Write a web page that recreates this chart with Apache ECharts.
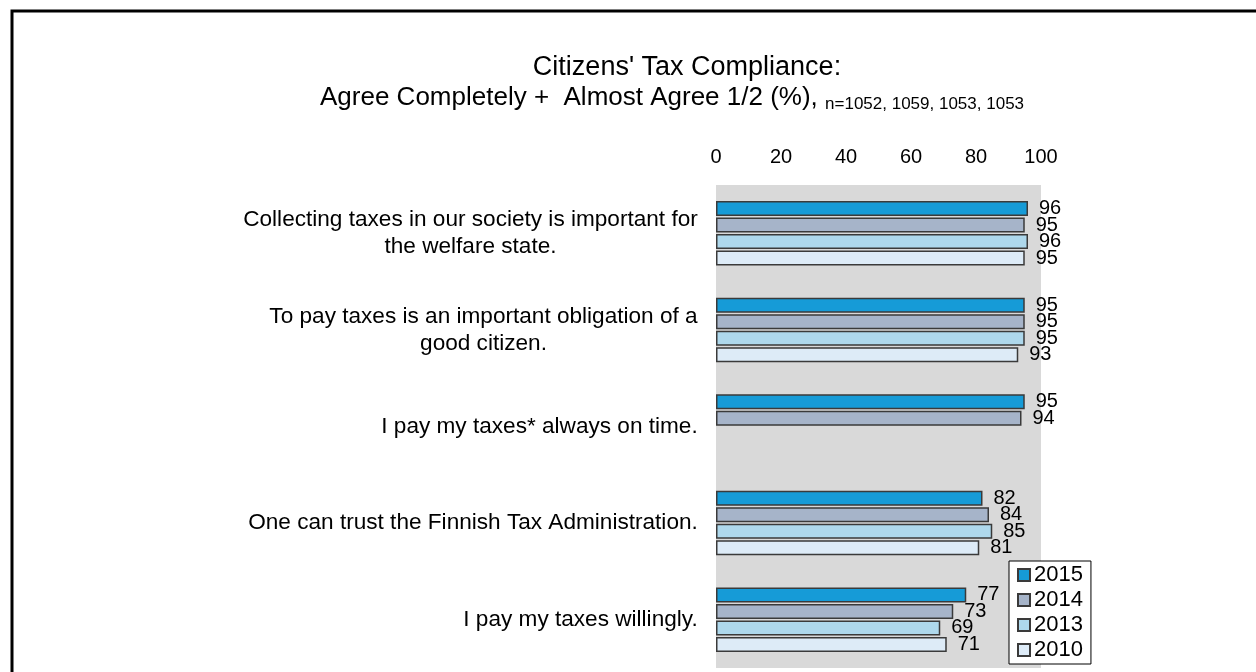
<!DOCTYPE html>
<html>
<head>
<meta charset="utf-8">
<script src="https://cdn.jsdelivr.net/npm/echarts@6/dist/echarts.min.js"></script>
<style>
html,body{margin:0;padding:0;background:#fff;}
#chart{width:1256px;height:672px;}
</style>
</head>
<body>
<div id="chart"></div>
<script>
const categories = [
  ["Collecting taxes in our society is important for", "the welfare state."],
  ["To pay taxes is an important obligation of a", "good citizen."],
  ["I pay my taxes* always on time."],
  ["One can trust the Finnish Tax Administration."],
  ["I pay my taxes willingly."]
];
const years = ["2015", "2014", "2013", "2010"];
const values2015 = [96, 95, 95, 82, 77];
const values2014 = [95, 95, 94, 84, 73];
const values2013 = [96, 95, null, 85, 69];
const values2010 = [95, 93, null, 81, 71];
const xTicks = [0, 20, 40, 60, 80, 100];
const titleLine1 = "Citizens' Tax Compliance:";
const titleLine2 = "Agree Completely +  Almost Agree 1/2 (%),";
const titleNote = "n=1052, 1059, 1053, 1053";

const seriesValues = [values2015, values2014, values2013, values2010];
const colors = ["#169bd7", "#a6b4c9", "#aed8ec", "#ddebf7"];

const FONT = '"Liberation Sans", Arial, sans-serif';
const catFont = 22.6;

const cv = document.createElement('canvas').getContext('2d');
cv.font = catFont + 'px "Liberation Sans"';
const rich = {};
categories.forEach((lines, i) => {
  const w = Math.max(...lines.map(l => cv.measureText(l).width));
  rich['c' + i] = {width: Math.ceil(w), align: 'center', fontSize: catFont, fontFamily: FONT, color: '#000', lineHeight: 27};
});
const catNames = categories.map((l, i) => 'cat' + i);

const chart = echarts.init(document.getElementById('chart'));
chart.setOption({
  backgroundColor: '#fff',
  animation: false,
  title: [{
    text: titleLine1,
    left: 687,
    top: 53,
    textAlign: 'center',
    padding: 0,
    textStyle: {fontFamily: FONT, fontSize: 27, fontWeight: 'normal', color: '#000', lineHeight: 30}
  }, {
    text: titleLine2 + ' {s|' + titleNote + '}',
    left: 320,
    top: 83,
    padding: 0,
    textStyle: {
      fontFamily: FONT, fontSize: 26, fontWeight: 'normal', color: '#000', lineHeight: 30,
      rich: {s: {fontSize: 17, fontFamily: FONT, color: '#000', lineHeight: 18, verticalAlign: 'bottom'}}
    }
  }],
  graphic: [{
    type: 'rect',
    shape: {x: 12, y: 11, width: 1300, height: 700},
    style: {fill: 'none', stroke: '#000', lineWidth: 3},
    silent: true,
    z: 100
  }],
  legend: {
    data: years,
    orient: 'vertical',
    left: 1009,
    top: 561,
    padding: [3, 8, 3, 8],
    itemGap: 3,
    itemWidth: 12,
    itemHeight: 12,
    icon: 'rect',
    backgroundColor: '#fff',
    borderColor: '#000',
    borderWidth: 1,
    textStyle: {fontFamily: FONT, fontSize: 22, lineHeight: 22, color: '#000', padding: [0, 0, 0, -1]}
  },
  grid: {left: 716, right: 215, top: 185, bottom: 4, backgroundColor: '#d9d9d9', show: true, borderWidth: 0},
  xAxis: {
    type: 'value',
    position: 'top',
    min: xTicks[0],
    max: xTicks[xTicks.length - 1],
    interval: xTicks[1] - xTicks[0],
    axisLine: {show: false},
    axisTick: {show: false},
    splitLine: {show: false},
    axisLabel: {fontFamily: FONT, fontSize: 20, color: '#000', margin: 18}
  },
  yAxis: {
    type: 'category',
    inverse: true,
    data: catNames,
    axisLine: {show: false},
    axisTick: {show: false},
    axisLabel: {
      margin: 18,
      interval: 0,
      formatter: function (v) {
        const i = catNames.indexOf(v);
        return categories[i].map(l => '{c' + i + '|' + l + '}').join('\n');
      },
      rich: rich
    }
  },
  series: years.map((y, k) => ({
    name: y,
    type: 'bar',
    data: seriesValues[k],
    barWidth: 15,
    barGap: '10%',
    itemStyle: {color: colors[k], borderColor: '#3a3a3a', borderWidth: 1.5},
    label: {
      show: true,
      position: 'right',
      distance: 11,
      fontFamily: FONT,
      fontSize: 20,
      color: '#000'
    }
  }))
});
</script>
</body>
</html>
